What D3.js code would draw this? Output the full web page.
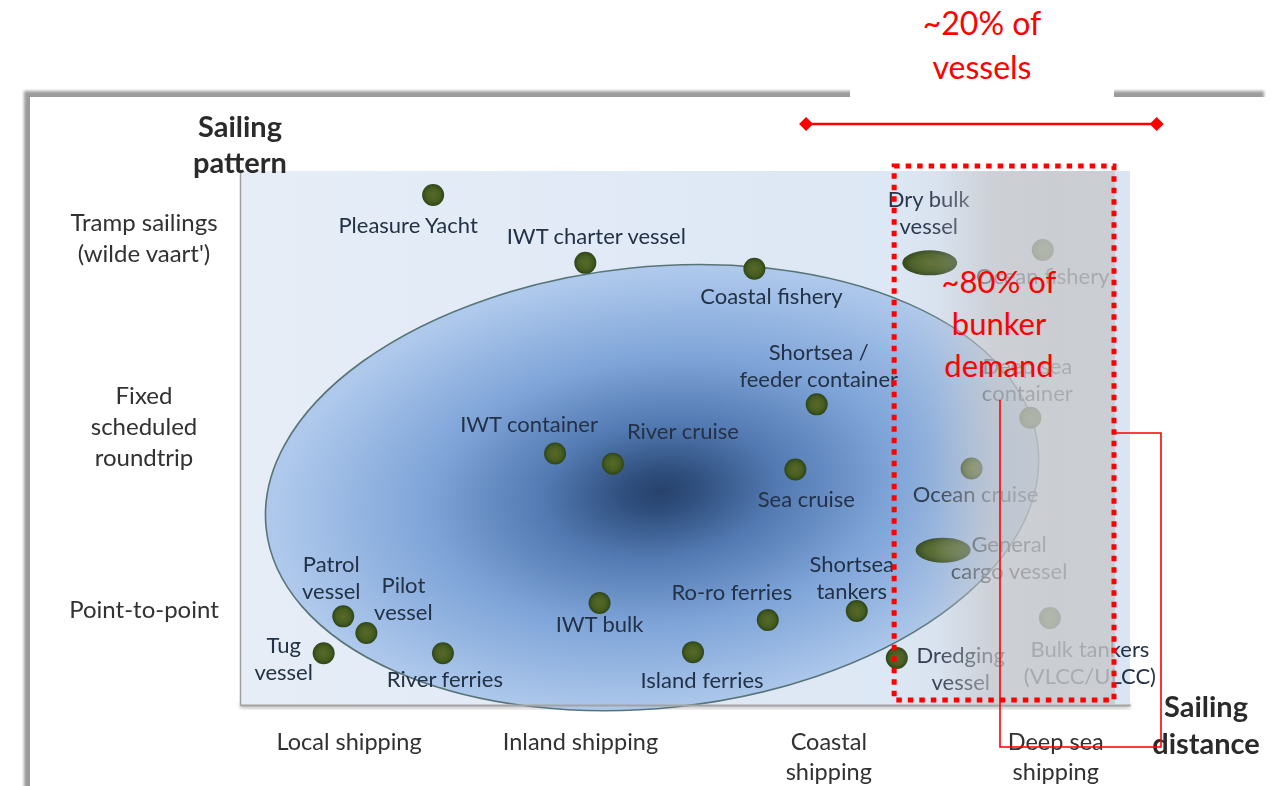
<!DOCTYPE html>
<html>
<head>
<meta charset="utf-8">
<script src="https://cdn.jsdelivr.net/npm/d3@7"></script>
<style>
  html, body { margin: 0; padding: 0; background: #ffffff; }
  svg { display: block; }
</style>
</head>
<body>
<svg id="chart" width="1274" height="786"></svg>
<script>
// ---- Vessel types placed by sailing distance (x) and sailing pattern (y), both on a 0–100 scale
const vesselTypes = [
  "Pleasure Yacht", "IWT charter vessel", "Coastal fishery", "Shortsea / feeder container",
  "IWT container", "River cruise", "Sea cruise", "Dry bulk vessel", "Ocean fishery",
  "Deep sea container", "Ocean cruise", "General cargo vessel", "Bulk tankers (VLCC/ULCC)",
  "Dredging vessel", "Shortsea tankers", "Ro-ro ferries", "Island ferries", "IWT bulk",
  "River ferries", "Patrol vessel", "Pilot vessel", "Tug vessel"
];
const sailingDistance = [
  21.7, 38.8, 57.8, 64.8,
  35.4, 41.9, 62.4, 77.5, 90.2,
  88.8, 82.2, 79.0, 91.0,
  73.8, 69.3, 59.3, 50.9, 40.4,
  22.8, 11.6, 14.2, 9.4
];
const sailingPattern = [
  95.5, 82.8, 81.7, 56.3,
  47.1, 45.2, 44.1, 82.8, 85.2,
  53.8, 44.3, 29.0, 16.3,
  8.8, 17.6, 15.9, 9.9, 19.1,
  9.7, 16.6, 13.5, 9.7
];
const vesselLabelLines = [
  ["Pleasure Yacht"], ["IWT charter vessel"], ["Coastal fishery"], ["Shortsea /", "feeder container"],
  ["IWT container"], ["River cruise"], ["Sea cruise"], ["Dry bulk", "vessel"], ["Ocean fishery"],
  ["Deep sea", "container"], ["Ocean cruise"], ["General", "cargo vessel"], ["Bulk tankers", "(VLCC/ULCC)"],
  ["Dredging", "vessel"], ["Shortsea", "tankers"], ["Ro-ro ferries"], ["Island ferries"], ["IWT bulk"],
  ["River ferries"], ["Patrol", "vessel"], ["Pilot", "vessel"], ["Tug", "vessel"]
];
// Fleet segments drawn as a broad marker instead of a dot
const broadVessels = ["Dry bulk vessel", "General cargo vessel"];

// ---- Axis categories
const distanceTicks = [12.2, 38.2, 66.1, 91.6];
const distanceTickLabels = [["Local shipping"], ["Inland shipping"], ["Coastal", "shipping"], ["Deep sea", "shipping"]];
const patternTicks = [87.5, 52.1, 17.8];
const patternTickLabels = [["Tramp sailings", "(wilde vaart')"], ["Fixed", "scheduled", "roundtrip"], ["Point-to-point"]];

// ---- Cluster of short-distance traffic: centre (distance, pattern) and half-extents
const clusterCentre = [46.3, 40.7];
const clusterRadii = [43.6, 41.3];

// ---- Deep-sea segment annotations
const deepSeaBand = [73.5, 98.2];
const vesselShareSpan = [63.6, 103.0];
const vesselShareText = ["~20% of", "vessels"];
const bunkerShareText = ["~80% of", "bunker", "demand"];

// ---- Label placement relative to each marker (pixels: centre x offset, first baseline offset)
const labelOffset = {
  "Pleasure Yacht": [-25, 38],
  "IWT charter vessel": [11, -19],
  "Coastal fishery": [17, 35],
  "Shortsea / feeder container": [2, -44],
  "IWT container": [-26, -21],
  "River cruise": [70, -25],
  "Sea cruise": [11, 37],
  "Dry bulk vessel": [-1, -56],
  "Ocean fishery": [0, 34],
  "Deep sea container": [-3, -44],
  "Ocean cruise": [4, 34],
  "General cargo vessel": [66, 2],
  "Bulk tankers (VLCC/ULCC)": [40, 39],
  "Dredging vessel": [64, 5],
  "Shortsea tankers": [-5, -39],
  "Ro-ro ferries": [-36, -20],
  "Island ferries": [9, 36],
  "IWT bulk": [0, 29],
  "River ferries": [2, 34],
  "Patrol vessel": [-12, -44],
  "Pilot vessel": [37, -40],
  "Tug vessel": [-40, 0]
};

const FONT = "Lato, 'Open Sans', sans-serif";
const svg = d3.select("#chart");
const defs = svg.append("defs");

const plot = { left: 240, right: 1130, top: 171, bottom: 705 };
const x = d3.scaleLinear().domain([0, 100]).range([plot.left, plot.right]);
const y = d3.scaleLinear().domain([0, 100]).range([plot.bottom, plot.top]);

// ---- Filters and gradients
const soft = defs.append("filter").attr("id", "soft").attr("x", "-5%").attr("y", "-5%").attr("width", "110%").attr("height", "110%");
soft.append("feGaussianBlur").attr("stdDeviation", 1.6);
const softer = defs.append("filter").attr("id", "softer").attr("x", "-5%").attr("y", "-50%").attr("width", "110%").attr("height", "200%");
softer.append("feGaussianBlur").attr("stdDeviation", 2);
const textSoft = defs.append("filter").attr("id", "textSoft");
textSoft.append("feGaussianBlur").attr("stdDeviation", 0.35);

const bgGrad = defs.append("linearGradient").attr("id", "plotBg").attr("x1", 0).attr("x2", 1).attr("y1", 0).attr("y2", 0);
bgGrad.append("stop").attr("offset", 0).attr("stop-color", "#e6edf7");
bgGrad.append("stop").attr("offset", 1).attr("stop-color", "#d9e5f4");

const clusterGrad = defs.append("radialGradient").attr("id", "clusterFill")
  .attr("cx", 0.51).attr("cy", 0.51).attr("r", 0.5);
[[0, "#27416b"], [0.1, "#30507f"], [0.3, "#5279b1"], [0.6, "#7ea4d8"], [1, "#afc9ec"]]
  .forEach(([o, c]) => clusterGrad.append("stop").attr("offset", o).attr("stop-color", c));

const dotGrad = defs.append("radialGradient").attr("id", "dotFill").attr("cx", 0.5).attr("cy", 0.5).attr("r", 0.5);
[[0, "#58692a"], [0.65, "#465d20"], [1, "#2e4419"]]
  .forEach(([o, c]) => dotGrad.append("stop").attr("offset", o).attr("stop-color", c));

const fadeGrad = defs.append("linearGradient").attr("id", "deepSeaFade").attr("x1", 0).attr("x2", 1).attr("y1", 0).attr("y2", 0);
[[0, 0], [0.18, 0.12], [0.45, 0.72], [0.7, 0.82], [1, 0.8]]
  .forEach(([o, a]) => fadeGrad.append("stop").attr("offset", o).attr("stop-color", "#c7c8ca").attr("stop-opacity", a));

// ---- Page frame with shadowed top and left edges
svg.append("rect").attr("x", 24).attr("y", 91).attr("width", 1240).attr("height", 760)
  .attr("fill", "#9b9b9b").attr("filter", "url(#soft)");
svg.append("rect").attr("x", 30).attr("y", 97).attr("width", 1244).attr("height", 700).attr("fill", "#ffffff");

// ---- Plot background
svg.append("rect").attr("x", plot.left).attr("y", plot.bottom - 1).attr("width", plot.right - plot.left).attr("height", 4)
  .attr("fill", "#b5b5b5").attr("filter", "url(#softer)");
svg.append("rect").attr("x", plot.left).attr("y", plot.top)
  .attr("width", plot.right - plot.left).attr("height", plot.bottom - plot.top)
  .attr("fill", "url(#plotBg)");

// ---- Cluster ellipse
svg.append("ellipse")
  .attr("cx", x(clusterCentre[0])).attr("cy", y(clusterCentre[1]))
  .attr("rx", x(clusterRadii[0]) - x(0)).attr("ry", y(0) - y(clusterRadii[1]))
  .attr("transform", `rotate(-6 ${x(clusterCentre[0])} ${y(clusterCentre[1])})`)
  .attr("fill", "url(#clusterFill)")
  .attr("stroke", "#587478").attr("stroke-width", 1.6);

// ---- Axes
const xAxis = d3.axisBottom(x).tickValues(distanceTicks).tickSize(0).tickSizeOuter(0).tickFormat("");
const gx = svg.append("g").attr("transform", `translate(0,${plot.bottom})`).call(xAxis);
gx.select(".domain").attr("stroke", "#a3a3a3").attr("stroke-width", 2);
gx.selectAll(".tick").each(function (d, i) {
  const t = d3.select(this).append("text")
    .attr("text-anchor", "middle").attr("fill", "#303030")
    .attr("font-family", FONT).attr("font-size", 23.5).attr("filter", "url(#textSoft)");
  distanceTickLabels[i].forEach((line, k) => {
    t.append("tspan").attr("x", 0).attr("y", 45 + k * 30).text(line);
  });
});

const yAxis = d3.axisLeft(y).tickValues(patternTicks).tickSize(0).tickSizeOuter(0).tickFormat("");
const gy = svg.append("g").attr("transform", `translate(${plot.left},0)`).call(yAxis);
gy.select(".domain").attr("stroke", "#9f9f9f").attr("stroke-width", 1.5);
gy.selectAll(".tick").each(function (d, i) {
  const lines = patternTickLabels[i];
  const lh = 31;
  const t = d3.select(this).append("text")
    .attr("text-anchor", "middle").attr("fill", "#303030")
    .attr("font-family", FONT).attr("font-size", 24).attr("filter", "url(#textSoft)");
  lines.forEach((line, k) => {
    t.append("tspan").attr("x", -96).attr("y", -(lines.length - 1) * lh / 2 + k * lh + 8).text(line);
  });
});

// ---- Axis titles
const titleStyle = s => s.attr("font-family", FONT).attr("font-weight", 700).attr("font-size", 29)
  .attr("fill", "#2b2b2b").attr("text-anchor", "middle").attr("filter", "url(#textSoft)");
svg.append("text").attr("x", 240).attr("y", 137).text("Sailing").call(titleStyle);
svg.append("text").attr("x", 240).attr("y", 173).text("pattern").call(titleStyle);
svg.append("text").attr("x", 1206).attr("y", 717).text("Sailing").call(titleStyle);
svg.append("text").attr("x", 1206).attr("y", 754).text("distance").call(titleStyle);

// ---- Vessel markers
const vessels = vesselTypes.map((name, i) => ({
  name, distance: sailingDistance[i], pattern: sailingPattern[i], lines: vesselLabelLines[i]
}));

svg.append("g").selectAll("ellipse").data(vessels).join("ellipse")
  .attr("cx", d => x(d.distance)).attr("cy", d => y(d.pattern))
  .attr("rx", d => broadVessels.includes(d.name) ? 27.5 : 11)
  .attr("ry", d => broadVessels.includes(d.name) ? 12.5 : 11)
  .attr("fill", "url(#dotFill)");

// ---- Vessel labels
const labels = svg.append("g").attr("font-family", FONT).attr("font-size", 22)
  .attr("fill", "#243146").attr("text-anchor", "middle").attr("filter", "url(#textSoft)");
labels.selectAll("text").data(vessels).join("text")
  .each(function (d) {
    const [dx, dy] = labelOffset[d.name];
    const t = d3.select(this);
    d.lines.forEach((line, k) => {
      t.append("tspan").attr("x", x(d.distance) + dx).attr("y", y(d.pattern) + dy + k * 27).text(line);
    });
  });

// ---- Deep-sea band: greyed overlay
svg.append("rect")
  .attr("x", x(deepSeaBand[0])).attr("y", plot.top)
  .attr("width", x(deepSeaBand[1]) - x(deepSeaBand[0]) + 1).attr("height", plot.bottom - plot.top - 1)
  .attr("fill", "url(#deepSeaFade)");

// Dotted outline of the deep-sea segment
svg.append("rect")
  .attr("x", x(deepSeaBand[0])).attr("y", plot.top - 5)
  .attr("width", x(deepSeaBand[1]) - x(deepSeaBand[0])).attr("height", plot.bottom - plot.top)
  .attr("fill", "none").attr("stroke", "#ff0000").attr("stroke-width", 5)
  .attr("stroke-dasharray", "5.5 6");

// Connector from the bunker-demand note around to the band
const bx = 1000;
svg.append("path")
  .attr("d", `M${bx},400 V747 H1161 V433 H${x(deepSeaBand[1]) + 2}`)
  .attr("fill", "none").attr("stroke", "#ff0000").attr("stroke-width", 1.6);

// ---- Share-of-vessels bracket
svg.append("rect").attr("x", 850).attr("y", 0).attr("width", 264).attr("height", 98).attr("fill", "#ffffff");
const spanY = 124;
svg.append("line")
  .attr("x1", x(vesselShareSpan[0])).attr("x2", x(vesselShareSpan[1]))
  .attr("y1", spanY).attr("y2", spanY)
  .attr("stroke", "#ff0000").attr("stroke-width", 2.6);
svg.append("g").selectAll("path").data(vesselShareSpan).join("path")
  .attr("d", d => `M${x(d) - 7},${spanY} L${x(d)},${spanY - 7} L${x(d) + 7},${spanY} L${x(d)},${spanY + 7} Z`)
  .attr("fill", "#ff0000");

const redText = svg.append("g").attr("font-family", FONT).attr("fill", "#ff0000").attr("text-anchor", "middle");
vesselShareText.forEach((line, k) => {
  redText.append("text").attr("x", 982).attr("y", 35 + k * 44).attr("font-size", 32).text(line);
});
bunkerShareText.forEach((line, k) => {
  redText.append("text").attr("x", 999).attr("y", 293 + k * 42).attr("font-size", 31).text(line);
});
</script>
</body>
</html>
